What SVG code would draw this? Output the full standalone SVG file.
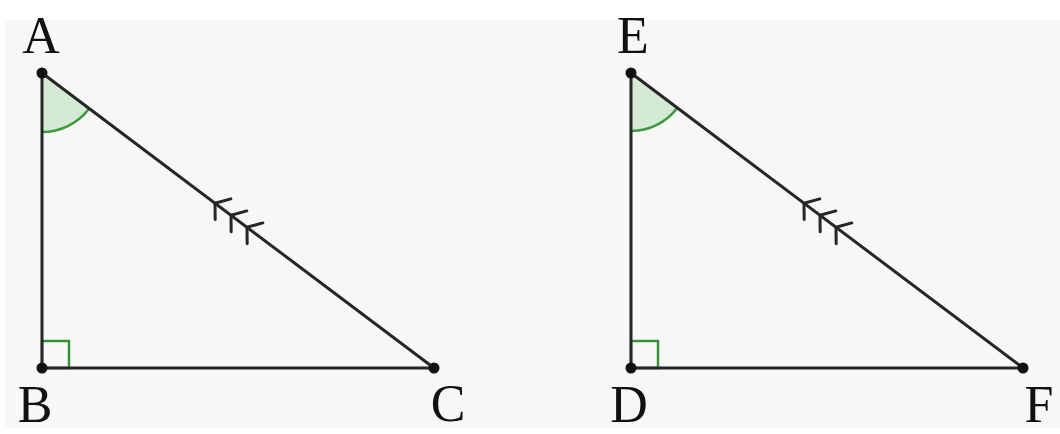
<svg xmlns="http://www.w3.org/2000/svg" width="1060" height="434" viewBox="0 0 1060 434">
<defs>
<style>
.edge{stroke:#262626;stroke-width:3;fill:none;stroke-linecap:round}
.tick{stroke:#262626;stroke-width:3;fill:none;stroke-linecap:round;stroke-linejoin:round}
.angfill{fill:#d4ead4;stroke:none}
.angarc{fill:none;stroke:#3b9a3b;stroke-width:2.5}
.right{fill:none;stroke:#358f35;stroke-width:2.4}
.pt{fill:#111}
.lbl{font-family:"Liberation Serif","Times New Roman",serif;font-size:52px;fill:#111;text-anchor:middle}
</style>
<path id="tk" d="M10,-13 L0,0 L10,13"/>
</defs>
<rect x="0" y="0" width="1060" height="434" fill="#ffffff"/>
<rect x="5" y="20" width="1055" height="408" fill="#f7f7f7"/>

<g id="marks1">
<path class="angfill" d="M42,73 L42,132 A59,59 0 0,0 89.2,108.4 Z"/>
<path class="angarc" d="M42,132 A59,59 0 0,0 89.2,108.4"/>
<rect class="right" x="42" y="341" width="27" height="27"/>
</g>
<g id="marks2">
<path class="angfill" d="M631,73 L631,131 A58,58 0 0,0 677.4,107.8 Z"/>
<path class="angarc" d="M631,131 A58,58 0 0,0 677.4,107.8"/>
<rect class="right" x="631" y="341" width="27" height="27"/>
</g>

<g id="connectors">
<line class="edge" x1="42" y1="73" x2="42" y2="368"/>
<line class="edge" x1="42" y1="368" x2="434" y2="368"/>
<line class="edge" x1="42" y1="73" x2="434" y2="368"/>
<line class="edge" x1="631" y1="73" x2="631" y2="368"/>
<line class="edge" x1="631" y1="368" x2="1023" y2="368"/>
<line class="edge" x1="631" y1="73" x2="1023" y2="368"/>
<g class="tick">
<use href="#tk" transform="translate(215,203.2) rotate(36.97)"/>
<use href="#tk" transform="translate(231,215.3) rotate(36.97)"/>
<use href="#tk" transform="translate(247,227.3) rotate(36.97)"/>
<use href="#tk" transform="translate(804,203.2) rotate(36.97)"/>
<use href="#tk" transform="translate(820,215.3) rotate(36.97)"/>
<use href="#tk" transform="translate(836,227.3) rotate(36.97)"/>
</g>
</g>

<g id="node-A"><circle class="pt" cx="42" cy="73" r="5.5"/><text class="lbl" x="41" y="53">A</text></g>
<g id="node-B"><circle class="pt" cx="42" cy="368" r="5.5"/><text class="lbl" x="35" y="422">B</text></g>
<g id="node-C"><circle class="pt" cx="434" cy="368" r="5.5"/><text class="lbl" x="448" y="421">C</text></g>
<g id="node-E"><circle class="pt" cx="631" cy="73" r="5.5"/><text class="lbl" x="633" y="53">E</text></g>
<g id="node-D"><circle class="pt" cx="631" cy="368" r="5.5"/><text class="lbl" x="629" y="422">D</text></g>
<g id="node-F"><circle class="pt" cx="1023" cy="368" r="5.5"/><text class="lbl" x="1039" y="422">F</text></g>
</svg>
